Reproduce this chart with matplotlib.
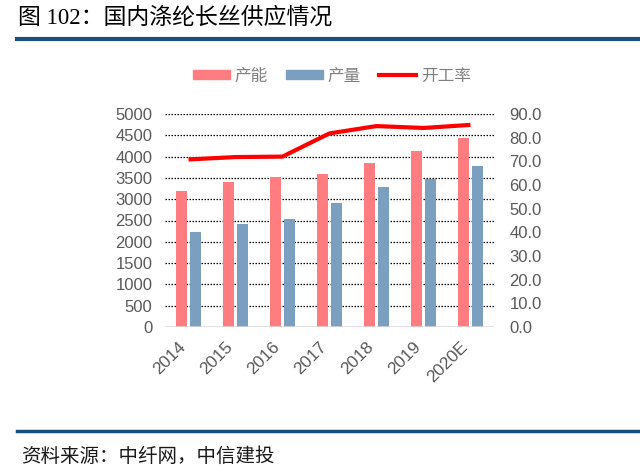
import matplotlib
matplotlib.use("Agg")
import matplotlib.pyplot as plt
import numpy as np
from matplotlib.lines import Line2D
from matplotlib.patches import Patch

plt.rcParams['font.family'] = ['Liberation Sans', 'Noto Sans CJK SC', 'DejaVu Sans']

categories = ["2014", "2015", "2016", "2017", "2018", "2019", "2020E"]
capacity = [3200, 3400, 3520, 3600, 3860, 4130, 4430]
output = [2240, 2420, 2530, 2920, 3290, 3480, 3790]
utilization = [70.8, 71.8, 72.0, 81.8, 84.9, 84.1, 85.4]
left_ticks = list(range(0, 5001, 500))
right_ticks = list(range(0, 91, 10))

c_cap = "#FF7C80"
c_out = "#7BA0BF"
c_line = "#FF0000"
c_tick = "#595959"
c_blue = "#1B4F7E"

fig = plt.figure(figsize=(6.4, 4.75), dpi=100)
ax = fig.add_axes([165/640, 1-327/475, (494-165)/640, (327-114)/475])
x = np.arange(len(categories))
w = 0.235
off = 0.15
ax.bar(x - off, capacity, width=w, color=c_cap, zorder=3)
ax.bar(x + off, output, width=w, color=c_out, zorder=3)
ax.set_xlim(-0.5, len(categories) - 0.5)
ax.set_ylim(0, 5000)
ax.set_yticks(left_ticks)
for v in left_ticks[1:]:
    ax.axhline(v, color="black", linestyle=(0, (1.2, 1.2)), linewidth=0.9, zorder=1)
ax.axhline(0, color="#D9D9D9", linewidth=1.8, zorder=4)
for s in ax.spines.values():
    s.set_visible(False)
ax.tick_params(axis='y', length=0, pad=9, labelsize=12, labelcolor=c_tick)
ax.tick_params(axis='x', length=0, pad=9, labelsize=12.5, labelcolor=c_tick)
ax.set_xticks(x)
ax.set_xticklabels(categories, rotation=45, ha='right', rotation_mode='default')
for lbl in ax.get_xticklabels():
    lbl.set_x(lbl.get_position()[0])

ax2 = ax.twinx()
ax2.plot(x, utilization, color=c_line, linewidth=3, zorder=5, solid_capstyle='butt')
ax2.set_ylim(0, 90)
ax2.set_yticks(right_ticks)
ax2.set_yticklabels([f"{v:.1f}" for v in right_ticks])
ax2.tick_params(axis='y', length=0, pad=11, labelsize=12, labelcolor=c_tick)
for s in ax2.spines.values():
    s.set_visible(False)

handles = [Patch(color=c_cap), Patch(color=c_out), Line2D([], [], color=c_line, linewidth=3)]
leg = fig.legend(handles, ["产能", "产量", "开工率"], loc='center', bbox_to_anchor=(332/640, 1-76/475),
                 ncol=3, frameon=False, handlelength=2.2, handleheight=0.5,
                 handletextpad=0.3, columnspacing=1.1, labelcolor="#808080",
                 prop={'family': ['Noto Sans CJK SC'], 'size': 12})

fig.text(18/640, 1-18/475, "图 102：国内涤纶长丝供应情况", fontsize=16.5, color="black",
         family=['Liberation Serif', 'Noto Sans CJK SC'], va='center', ha='left')
fig.add_artist(Line2D([17/640, 1], [1-39/475, 1-39/475], color=c_blue, linewidth=3))
fig.add_artist(Line2D([17/640, 1], [1-430.5/475, 1-430.5/475], color=c_blue, linewidth=2.5))
fig.text(21/640, 1-456/475, "资料来源：中纤网，中信建投", fontsize=14, color="#1a1a1a", style='italic',
         family=['Noto Sans CJK SC'], va='center', ha='left')

fig.savefig("out.png", dpi=100)
